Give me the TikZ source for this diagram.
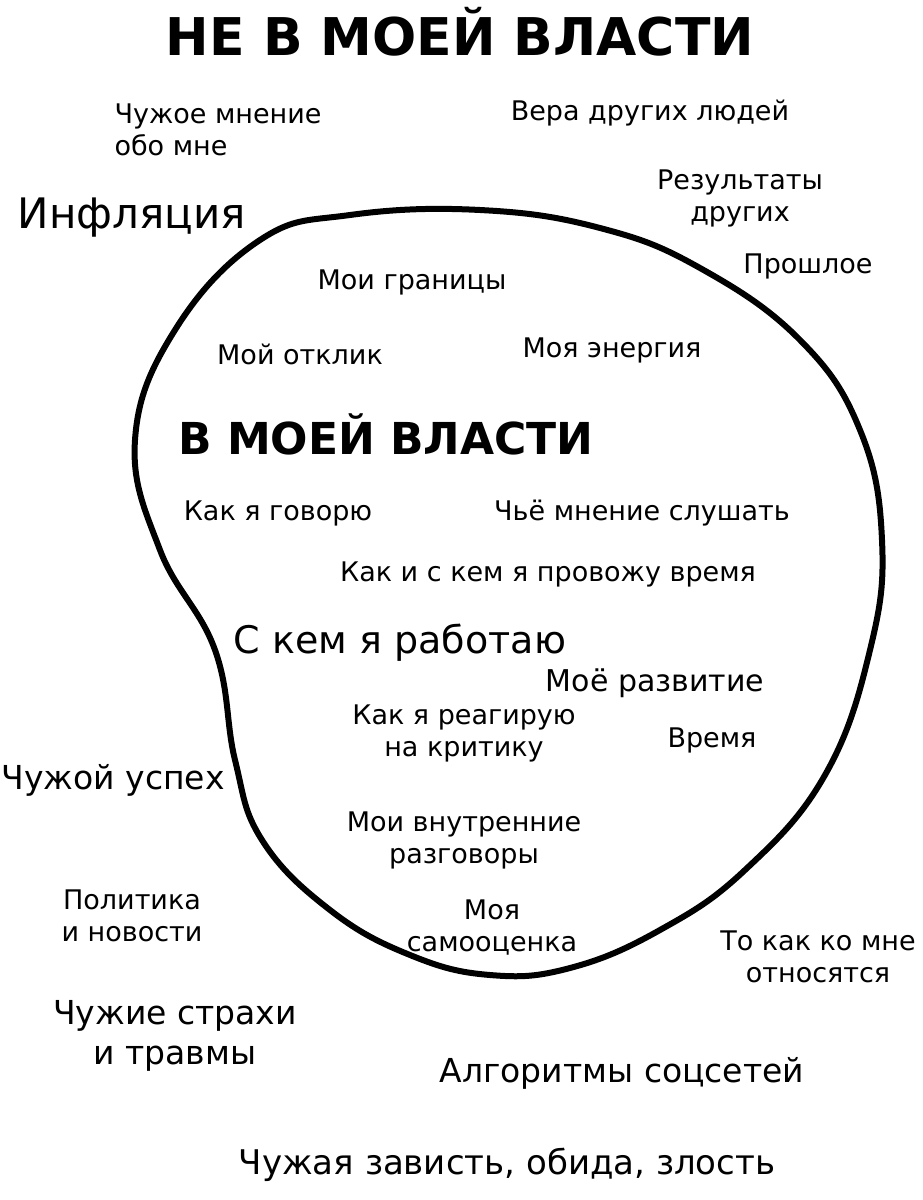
\documentclass[tikz,border=0pt]{standalone}
\usepackage{fontspec}
\setmainfont{DejaVu Sans}
\begin{document}
\begin{tikzpicture}[x=1pt,y=-1pt,
  t/.style={font=\fontsize{27}{32}\selectfont, align=center, inner sep=0pt},
  hd/.style={font=\fontsize{52}{54}\selectfont\bfseries, inner sep=0pt}]
\useasboundingbox[fill=white] (0,0) rectangle (922,1200);
\draw[line width=6pt] plot[smooth cycle, tension=0.7] coordinates {
 (260,240) (175,330) (135,440) (160,550) (215,650) (235,760) (262,840) (330,910)
 (410,955) (490,975) (570,968) (660,930) (745,870) (825,775) (870,650) (882,540)
 (860,430) (800,340) (700,268) (600,228) (480,210) (350,215)};
\node[hd] (h1) at (460,32) {НЕ В МОЕЙ ВЛАСТИ};
\node[t, align=left] (a1) at (218,130) {Чужое мнение\\обо мне};
\node[t] (a2) at (650,113) {Вера других людей};
\node[t] (a3) at (740,198) {Результаты\\других};
\node[t, font=\fontsize{42}{44}\selectfont] (a4) at (132,218) {Инфляция};
\node[t] (a5) at (808,266) {Прошлое};
\node[t] (b1) at (412,282) {Мои границы};
\node[t] (b2) at (300,354) {Мой отклик};
\node[t] (b3) at (612,350) {Моя энергия};
\node[hd, font=\fontsize{44}{46}\selectfont\bfseries] (h2) at (386,434) {В МОЕЙ ВЛАСТИ};
\node[t] (b4) at (278,513) {Как я говорю};
\node[t] (b5) at (642,513) {Чьё мнение слушать};
\node[t] (b6) at (548,574) {Как и с кем я провожу время};
\node[t, font=\fontsize{38}{40}\selectfont] (b7) at (400,643) {С кем я работаю};
\node[t, font=\fontsize{30}{32}\selectfont] (b8) at (655,683) {Моё развитие};
\node[t] (b9) at (464,733) {Как я реагирую\\на критику};
\node[t] (b10) at (712,740) {Время};
\node[t, font=\fontsize{33}{35}\selectfont] (a6) at (113,780) {Чужой успех};
\node[t] (b11) at (464,840) {Мои внутренние\\разговоры};
\node[t] (a7) at (132,916) {Политика\\и новости};
\node[t] (b12) at (492,928) {Моя\\самооценка};
\node[t] (a8) at (818,957) {То как ко мне\\относятся};
\node[t, font=\fontsize{33}{40}\selectfont] (a9) at (175,1036) {Чужие страхи\\и травмы};
\node[t, font=\fontsize{33}{35}\selectfont] (a10) at (622,1073) {Алгоритмы соцсетей};
\node[t, font=\fontsize{34}{36}\selectfont] (a11) at (507,1165) {Чужая зависть, обида, злость};
\end{tikzpicture}
\end{document}
